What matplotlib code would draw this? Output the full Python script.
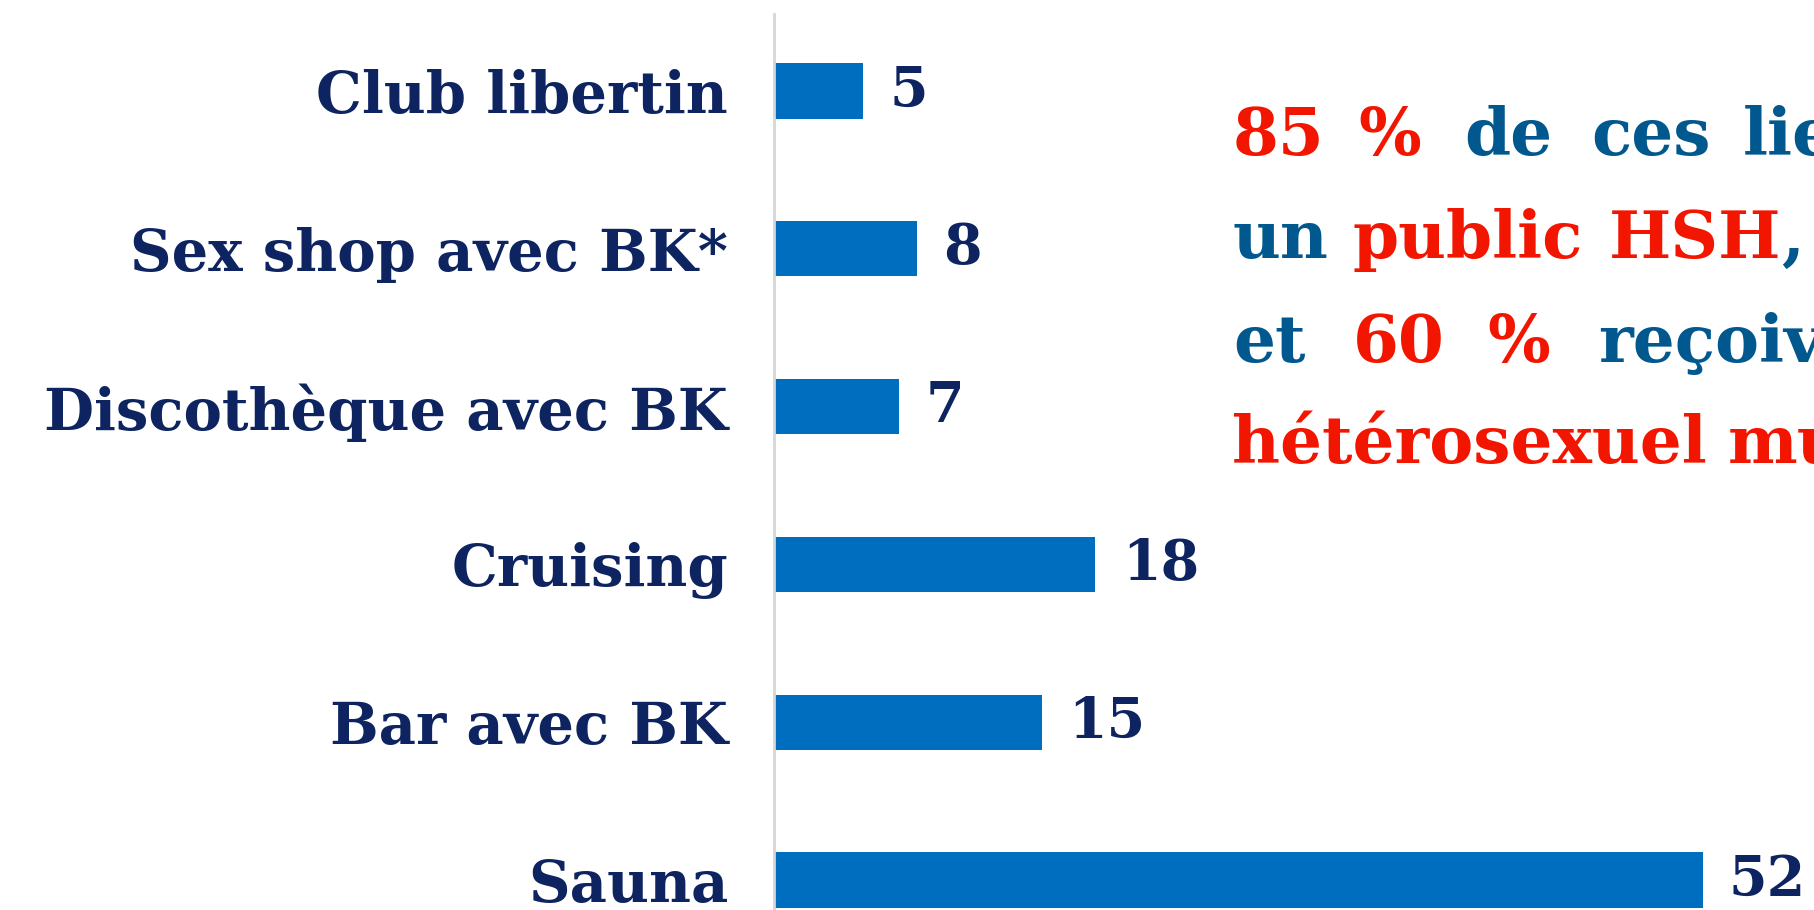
import matplotlib
matplotlib.use("Agg")
import matplotlib.pyplot as plt

# chart data
categories = ["Club libertin", "Sex shop avec BK*", "Discothèque avec BK",
              "Cruising", "Bar avec BK", "Sauna"]
values = [5, 8, 7, 18, 15, 52]

# note on the right, word by word with its colour key
note_words = [
    [("85", "r"), ("%", "r"), ("de", "b"), ("ces", "b"), ("lieux", "b")],
    [("un", "b"), ("public", "r"), ("HSH", "r"), (",", "b")],
    [("et", "b"), ("60", "r"), ("%", "r"), ("reçoivent", "b")],
    [("hétérosexuel", "r"), ("multipartenaire", "r")],
]

W, H = 1815, 910
BAR = "#006EBE"
NAVY = "#0E2461"
RED = "#F21500"
BLUE = "#00588F"
FONT = "DejaVu Serif"

# x (px) of each word, baseline (px) of each line; None = right after
# the previous word
word_x = [
    [1233, 1358, 1464, 1591, 1743],
    [1232, 1353, 1609, None],
    [1233, 1353, 1487, 1598],
    [1232, 1728],
]
line_y = [155, 258, 362, 463]


def draw_chart(fig):
    ax = fig.add_axes([774 / W, 0, 1 - 774 / W, (H - 14) / H])
    pos = list(range(len(categories)))
    bars = ax.barh(pos, values, height=0.35, color=BAR)
    ax.set_ylim(5.19, -0.488)
    ax.set_xlim(0, 58.3)
    ax.set_yticks(pos)
    ax.set_yticklabels(categories, fontsize=41.5, fontweight="bold",
                       color=NAVY, family=FONT)
    ax.tick_params(axis="y", length=0, pad=33)
    ax.set_xticks([])
    for s in ["top", "right", "bottom"]:
        ax.spines[s].set_visible(False)
    ax.spines["left"].set_color("#D6D6D6")
    ax.spines["left"].set_linewidth(2)
    ax.bar_label(bars, padding=19, fontsize=40, fontweight="bold",
                 color=NAVY, family=FONT)
    return ax


def draw_note(fig):
    colors = {"r": RED, "b": BLUE}
    renderer = fig.canvas.get_renderer()
    prev = None
    for words, xs, y in zip(note_words, word_x, line_y):
        for (w, c), x in zip(words, xs):
            if x is None:
                x = prev.get_window_extent(renderer).x1
            prev = fig.text(x / W, 1 - y / H, w, color=colors[c],
                            fontsize=47.5, fontweight="bold", family=FONT,
                            ha="left", va="baseline")


if __name__ == "__main__":
    fig = plt.figure(figsize=(W / 100, H / 100), dpi=100)
    draw_chart(fig)
    draw_note(fig)
    fig.savefig("out.png", dpi=100)
